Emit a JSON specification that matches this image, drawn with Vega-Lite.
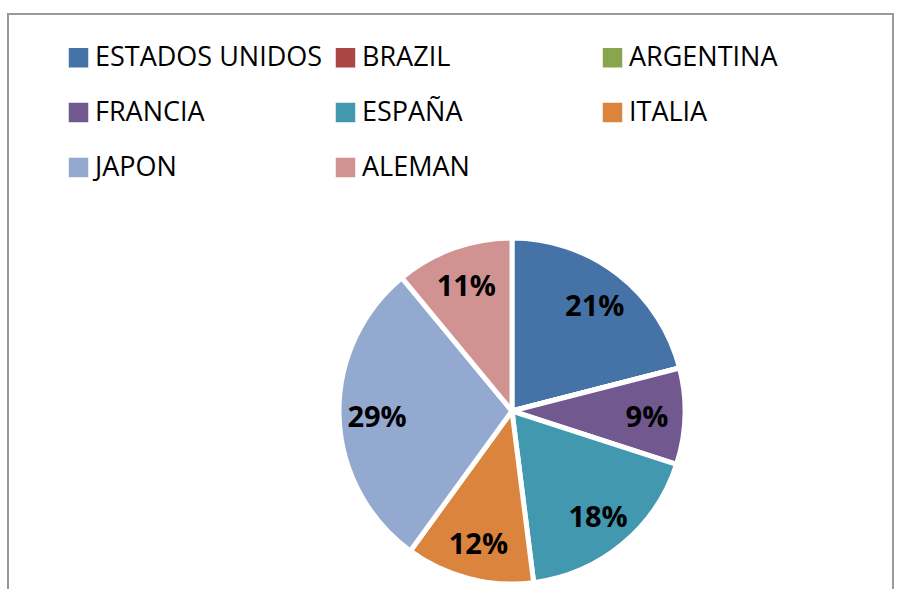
{
  "$schema": "https://vega.github.io/schema/vega-lite/v6.json",
  "width": 885,
  "height": 585,
  "autosize": {"type": "none"},
  "padding": {"left": 8, "top": 14, "right": 5, "bottom": 0},
  "background": "white",
  "config": {
    "view": {"stroke": "#9a9a9a", "strokeWidth": 2},
    "font": "Open Sans"
  },
  "data": {
    "values": [
      {"pais": "ESTADOS UNIDOS", "valor": 0.21, "orden": 1},
      {"pais": "BRAZIL", "valor": 0, "orden": 2},
      {"pais": "ARGENTINA", "valor": 0, "orden": 3},
      {"pais": "FRANCIA", "valor": 0.09, "orden": 4},
      {"pais": "ESPAÑA", "valor": 0.18, "orden": 5},
      {"pais": "ITALIA", "valor": 0.12, "orden": 6},
      {"pais": "JAPON", "valor": 0.29, "orden": 7},
      {"pais": "ALEMAN", "valor": 0.11, "orden": 8}
    ]
  },
  "encoding": {
    "theta": {"field": "valor", "type": "quantitative", "stack": true},
    "order": {"field": "orden", "type": "quantitative"},
    "x": {"value": 504},
    "y": {"value": 397}
  },
  "layer": [
    {
      "mark": {"type": "arc", "outerRadius": 173, "stroke": "white", "strokeWidth": 5},
      "encoding": {
        "color": {
          "field": "pais",
          "type": "nominal",
          "sort": null,
          "scale": {
            "domain": ["ESTADOS UNIDOS", "BRAZIL", "ARGENTINA", "FRANCIA", "ESPAÑA", "ITALIA", "JAPON", "ALEMAN"],
            "range": ["#4572A7", "#AA4643", "#89A54E", "#71588F", "#4198AF", "#DB843D", "#93A9CF", "#D19392"]
          },
          "legend": {
            "title": null,
            "orient": "none",
            "legendX": 57,
            "legendY": 30,
            "direction": "horizontal",
            "columns": 3,
            "gridAlign": "all",
            "columnPadding": 9,
            "rowPadding": 27,
            "padding": 0,
            "symbolType": "square",
            "symbolSize": 380,
            "symbolStrokeWidth": 0,
            "symbolOpacity": 1,
            "labelOffset": 3,
            "labelFont": "Open Sans",
            "labelFontSize": 27,
            "labelColor": "#000000",
            "labelLimit": 400
          }
        }
      }
    },
    {
      "transform": [{"filter": "datum.valor > 0"}],
      "mark": {"type": "text", "radius": 135, "dy": 3, "font": "Open Sans", "fontSize": 29, "fontWeight": "bold", "color": "#000000"},
      "encoding": {
        "text": {"field": "valor", "type": "quantitative", "format": ".0%"}
      }
    }
  ]
}
